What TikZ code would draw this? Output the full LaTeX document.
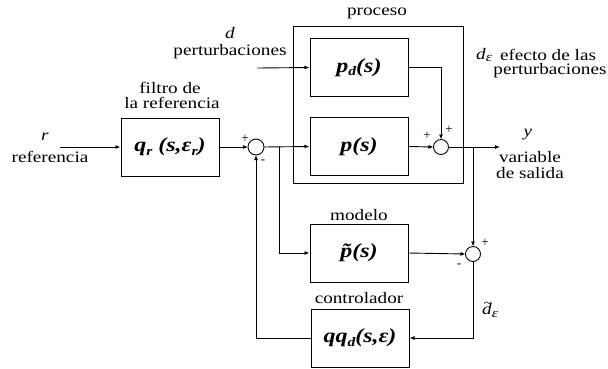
\documentclass[tikz,border=0pt]{standalone}
\usepackage{fontspec}
\setmainfont{Liberation Serif}
\usetikzlibrary{arrows.meta}
\newcommand\sx[1]{\scalebox{1.2}[1]{#1}}
\newcommand\lsub[1]{\raisebox{-0.4ex}{\fontsize{13}{13}\selectfont #1}}
\begin{document}
\begin{tikzpicture}[x=1pt,y=-1pt,
  blk/.style={draw, line width=1pt, minimum width=98pt, minimum height=58pt, inner sep=0pt,
    font=\fontsize{20}{20}\selectfont\bfseries\itshape},
  labnode/.style={font=\fontsize{16}{16}\selectfont, inner sep=0pt},
  signnode/.style={font=\fontsize{13}{13}\selectfont, inner sep=0pt},
  conn/.style={line width=0.9pt, -{Latex[length=5pt,width=4pt]}}]
\useasboundingbox (0,0) rectangle (608,368);
\draw[line width=1pt] (293,26) rectangle (463,183);
\node[labnode] (proclab) at (377,13) {\sx{proceso}};
\node[blk] (qr) at (170,147) {\sx{q\lsub{r} (s,ε\lsub{r})}};
\node[blk] (pd) at (359,67.5) {\sx{p\lsub{d}(s)}};
\node[blk] (pp) at (359,146.5) {\sx{p(s)}};
\node[blk] (mod) at (359,253) {\sx{\~{p}(s)}};
\node[blk] (ctrl) at (360,338) {\sx{qq\lsub{d}(s,ε)}};
% summing junctions
\draw[line width=0.9pt] (256,147) circle (8);
\draw[line width=0.9pt] (441,147) circle (7.5);
\draw[line width=0.9pt] (473,254) circle (7.5);
\coordinate (s1w) at (248,147);
\coordinate (s1e) at (264,147);
\coordinate (s1s) at (256,155);
\coordinate (s2w) at (433.5,147);
\coordinate (s2e) at (448.5,147);
\coordinate (s2n) at (441,139.5);
\coordinate (s3w) at (465.5,254);
\coordinate (s3n) at (473,246.5);
\coordinate (s3s) at (473,261.5);
\coordinate (rin) at (60,147);
\coordinate (din) at (257,68);
\coordinate (b1) at (279,147);
\coordinate (b2) at (473,147);
\coordinate (yout) at (500,147);
\node[labnode] (rl) at (45,137) {\sx{\textit{r}}};
\node[labnode] (rl2) at (50,157) {\sx{referencia}};
\node[labnode] (fl1) at (170,88) {\sx{filtro de}};
\node[labnode] (fl2) at (172,103) {\sx{la referencia}};
\node[labnode] (dl) at (230,33) {\sx{\textit{d}}};
\node[labnode] (dl2) at (230,52) {\sx{perturbaciones}};
\node[labnode] (yl) at (528,135) {\sx{\textit{y}}};
\node[labnode] (yl2) at (530,157) {\sx{variable}};
\node[labnode] (yl3) at (530,173) {\sx{de salida}};
\node[labnode] (del) at (484,55) {\sx{\textit{d}\lsub{\textit{ε}}}};
\node[labnode] (del2) at (548,55) {\sx{efecto de las}};
\node[labnode] (del3) at (550,71) {\sx{perturbaciones}};
\node[labnode] (ml) at (359,215) {\sx{modelo}};
\node[labnode] (cl) at (359,298) {\sx{controlador}};
\node[labnode] (dtl) at (490,310) {\sx{\textit{\rlap{\raisebox{0.45em}{\hspace{0.08em}\fontsize{13}{13}\selectfont\textasciitilde}}d}\lsub{\textit{ε}}}};
\node[signnode] (p1) at (245,139) {+};
\node[signnode] (m1) at (263,162) {-};
\node[signnode] (p2) at (427,136) {+};
\node[signnode] (p3) at (449,130) {+};
\node[signnode] (p4) at (485,243) {+};
\node[signnode] (m3) at (459,266) {-};
\draw[conn] (rin) -- (qr.west);
\draw[conn] (qr.east) -- (s1w);
\draw[conn] (s1e) -- (pp.west);
\draw[conn] (b1) |- (mod.west);
\draw[conn] (din) -- (pd.west);
\draw[conn] (pd.east) -| (s2n);
\draw[conn] (pp.east) -- (s2w);
\draw[conn] (s2e) -- (yout);
\draw[conn] (b2) -- (s3n);
\draw[conn] (mod.east) -- (s3w);
\draw[conn] (s3s) |- (ctrl.east);
\draw[conn] (ctrl.west) -| (s1s);
\end{tikzpicture}
\end{document}
